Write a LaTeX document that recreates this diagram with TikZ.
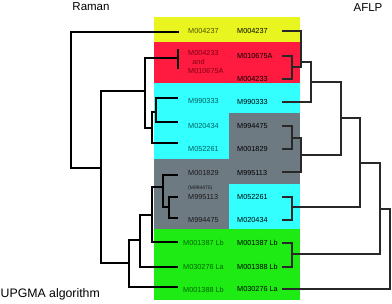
\documentclass[tikz,border=0pt]{standalone}
\usepackage{fontspec}
\setmainfont{Liberation Sans}
\definecolor{bgY}{RGB}{232,245,30}
\definecolor{bgR}{RGB}{255,26,64}
\definecolor{bgC}{RGB}{51,255,255}
\definecolor{bgG}{RGB}{110,122,130}
\definecolor{bgN}{RGB}{30,235,20}
\definecolor{txY}{RGB}{80,80,0}
\definecolor{txR}{RGB}{130,0,20}
\definecolor{txC}{RGB}{0,95,95}
\definecolor{txG}{RGB}{25,25,25}
\definecolor{txN}{RGB}{0,100,0}
\definecolor{treeR}{RGB}{40,40,40}
\begin{document}
\begin{tikzpicture}[x=1pt,y=-1pt,
  lbl/.style={inner sep=0pt, anchor=west, font=\fontsize{7.3}{8}\selectfont},
  rlbl/.style={lbl, text=black},
  ltree/.style={draw=black, line width=1.3pt},
  rtree/.style={draw=treeR, line width=1.1pt},
  title/.style={inner sep=0pt, font=\fontsize{11.5}{13}\selectfont}]
\useasboundingbox (0,0) rectangle (392,304);
% backgrounds: left column
\fill[bgY] (154,17) rectangle (229,42);
\fill[bgR] (154,42) rectangle (229,83);
\fill[bgC] (154,83) rectangle (229,159);
\fill[bgG] (154,159) rectangle (229,229);
\fill[bgN] (154,229) rectangle (229,300);
% backgrounds: right column
\fill[bgY] (229,17) rectangle (300,42);
\fill[bgR] (229,42) rectangle (300,83);
\fill[bgC] (229,83) rectangle (300,113);
\fill[bgG] (229,113) rectangle (300,184);
\fill[bgC] (229,184) rectangle (300,229);
\fill[bgN] (229,229) rectangle (300,300);
% titles
\node[title] (tRaman) at (91,7) {Raman};
\node[title] (tAFLP) at (368,7.5) {AFLP};
\node[title, anchor=west, font=\fontsize{12.3}{14}\selectfont] (tUPGMA) at (0.5,294) {UPGMA algorithm};
% left labels
\node[lbl, text=txY] (a1) at (188,31) {M004237};
\node[lbl, text=txR] (a2) at (188,53) {M004233};
\node[lbl, text=txR, anchor=center] (a2b) at (198.5,62) {and};
\node[lbl, text=txR] (a2c) at (188,71) {M010675A};
\node[lbl, text=txC] (a3) at (188,101) {M990333};
\node[lbl, text=txC] (a4) at (188,126) {M020434};
\node[lbl, text=txC] (a5) at (188,149) {M052261};
\node[lbl, text=txG] (a6) at (188,173) {M001829};
\node[lbl, text=txG, font=\fontsize{5}{6}\selectfont] (a6b) at (188,188) {(M994475)};
\node[lbl, text=txG] (a7) at (188,196.5) {M995113};
\node[lbl, text=txG] (a8) at (188,220) {M994475};
\node[lbl, text=txN] (a9) at (183,243) {M001387 Lb};
\node[lbl, text=txN] (a10) at (183,267) {M030276 La};
\node[lbl, text=txN] (a11) at (183,290) {M001388 Lb};
% right labels
\node[rlbl] (b1) at (237,31) {M004237};
\node[rlbl] (b2) at (237,56) {M010675A};
\node[rlbl] (b3) at (237,79) {M004233};
\node[rlbl] (b4) at (237,102) {M990333};
\node[rlbl] (b5) at (237,126) {M994475};
\node[rlbl] (b6) at (237,149) {M001829};
\node[rlbl] (b7) at (237,173) {M995113};
\node[rlbl] (b8) at (237,197) {M052261};
\node[rlbl] (b9) at (237,220) {M020434};
\node[rlbl] (b10) at (237,243) {M001387 Lb};
\node[rlbl] (b11) at (237,267) {M001388 Lb};
\node[rlbl] (b12) at (237,289) {M030276 La};
% ---------- Raman tree ----------
\coordinate (lA) at (179,32);
\coordinate (lR) at (178,58);
\coordinate (lRt) at (178,49);
\coordinate (lRb) at (178,69);
\coordinate (lC1) at (178,98);
\coordinate (lC2) at (178,122);
\coordinate (lC3) at (178,143);
\coordinate (lG1) at (178,175);
\coordinate (lG2) at (178,197);
\coordinate (lG3) at (178,218);
\coordinate (lN1) at (178,242);
\coordinate (lN2) at (178,267);
\coordinate (lN3) at (178,287);
\coordinate (nRoot) at (71,100);
\coordinate (nB) at (101,168);
\coordinate (nC) at (145,91);
\coordinate (nD) at (152,128);
\coordinate (nE) at (156,112);
\coordinate (nG) at (129,263);
\coordinate (nH) at (140,240);
\coordinate (nI) at (152,215);
\coordinate (nJ) at (163,187);
\coordinate (nK) at (169,207);
\draw[ltree] (nRoot) |- (lA);
\draw[ltree] (nRoot) |- (nB);
\draw[ltree] (nB) |- (nC);
\draw[ltree] (nB) |- (nG);
\draw[ltree] (nC) |- (lR);
\draw[ltree] (lRt) -- (lRb);
\draw[ltree] (nC) |- (nD);
\draw[ltree] (nD) |- (nE);
\draw[ltree] (nD) |- (lC3);
\draw[ltree] (nE) |- (lC1);
\draw[ltree] (nE) |- (lC2);
\draw[ltree] (nG) |- (nH);
\draw[ltree] (nG) |- (lN3);
\draw[ltree] (nH) |- (nI);
\draw[ltree] (nH) |- (lN2);
\draw[ltree] (nI) |- (nJ);
\draw[ltree] (nI) |- (lN1);
\draw[ltree] (nJ) |- (lG1);
\draw[ltree] (nJ) |- (nK);
\draw[ltree] (nK) |- (lG2);
\draw[ltree] (nK) |- (lG3);
% ---------- AFLP tree ----------
\coordinate (q1) at (282,31);
\coordinate (q2) at (282,56);
\coordinate (q3) at (282,79);
\coordinate (q4) at (282,102);
\coordinate (q5) at (282,126);
\coordinate (q6) at (282,149);
\coordinate (q7) at (282,172);
\coordinate (q8) at (282,197);
\coordinate (q9) at (282,220);
\coordinate (q10) at (282,243);
\coordinate (q11) at (282,267);
\coordinate (q12) at (282,289);
\coordinate (r1) at (292,67);
\coordinate (r2) at (301,62);
\coordinate (r3) at (311,82);
\coordinate (r4) at (292,138);
\coordinate (r5) at (301,155);
\coordinate (r6) at (341,118);
\coordinate (r7) at (292,207);
\coordinate (r8) at (360,163);
\coordinate (r9) at (292,254);
\coordinate (r10) at (380,209);
\coordinate (r11) at (390,250);
\draw[rtree] (r1) |- (q2);
\draw[rtree] (r1) |- (q3);
\draw[rtree] (r2) |- (q1);
\draw[rtree] (r2) |- (r1);
\draw[rtree] (r3) |- (r2);
\draw[rtree] (r3) |- (q4);
\draw[rtree] (r4) |- (q5);
\draw[rtree] (r4) |- (q6);
\draw[rtree] (r5) |- (r4);
\draw[rtree] (r5) |- (q7);
\draw[rtree] (r6) |- (r3);
\draw[rtree] (r6) |- (r5);
\draw[rtree] (r7) |- (q8);
\draw[rtree] (r7) |- (q9);
\draw[rtree] (r8) |- (r6);
\draw[rtree] (r8) |- (r7);
\draw[rtree] (r9) |- (q10);
\draw[rtree] (r9) |- (q11);
\draw[rtree] (r10) |- (r8);
\draw[rtree] (r10) |- (r9);
\draw[rtree] (r11) |- (r10);
\draw[rtree] (r11) |- (q12);
\end{tikzpicture}
\end{document}
